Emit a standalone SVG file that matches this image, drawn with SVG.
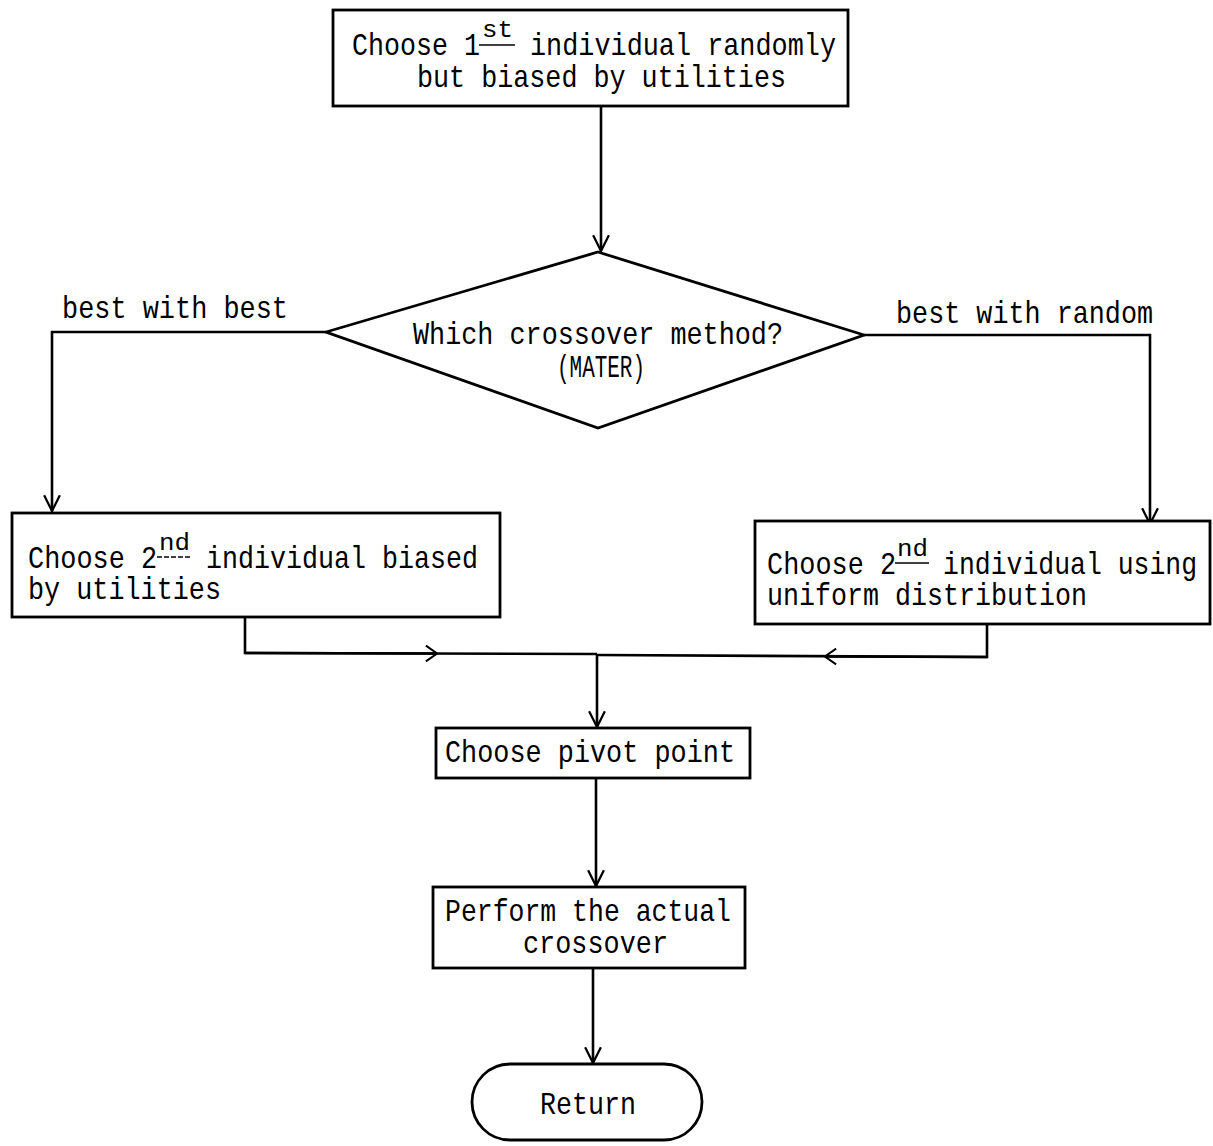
<svg xmlns="http://www.w3.org/2000/svg" width="1213" height="1146" viewBox="0 0 1213 1146">
  <style>
    .box { fill: #ffffff; stroke: #000000; stroke-width: 2.8; }
    .wire { fill: none; stroke: #000000; stroke-width: 2.6; }
    .ul { stroke: #000000; stroke-width: 1.6; }
    text { font-family: "Liberation Mono", "Courier New", monospace; font-size: 32px; fill: #000000; }
    .sup { font-size: 24px; }
  </style>
  <defs>
    <marker id="vhead" viewBox="0 0 16 16" refX="15" refY="8" markerWidth="18" markerHeight="18" markerUnits="userSpaceOnUse" orient="auto">
      <path d="M1,1 L15,8 L1,15" fill="none" stroke="#000000" stroke-width="2"/>
    </marker>
    <marker id="vmid" viewBox="0 0 16 16" refX="10" refY="8" markerWidth="18" markerHeight="18" markerUnits="userSpaceOnUse" orient="auto">
      <path d="M1,1 L11,8 L1,15" fill="none" stroke="#000000" stroke-width="1.8"/>
    </marker>
  </defs>

  <rect width="1213" height="1146" fill="#ffffff"/>

  <!-- connectors -->
  <g id="connectors">
    <line class="wire" x1="601" y1="106" x2="601" y2="251" marker-end="url(#vhead)"/>
    <polyline class="wire" points="326,332 52,332 52,511" marker-end="url(#vhead)"/>
    <polyline class="wire" points="864,335 1150,335 1150,524" marker-end="url(#vhead)"/>
    <polyline class="wire" points="245,617 245,653 597,654"/>
    <polyline class="wire" points="987,624 987,657 597,655"/>
    <line class="wire" x1="245" y1="653" x2="436" y2="653.5" marker-end="url(#vmid)"/>
    <line class="wire" x1="987" y1="657" x2="826" y2="656.5" marker-end="url(#vmid)"/>
    <line class="wire" x1="597" y1="655" x2="597" y2="727" marker-end="url(#vhead)"/>
    <line class="wire" x1="596" y1="778" x2="596" y2="886" marker-end="url(#vhead)"/>
    <line class="wire" x1="593" y1="968" x2="593" y2="1063" marker-end="url(#vhead)"/>
    <text x="62" y="318" textLength="226" lengthAdjust="spacingAndGlyphs">best with best</text>
    <text x="896" y="323" textLength="257" lengthAdjust="spacingAndGlyphs">best with random</text>
  </g>

  <!-- first parent selection -->
  <g id="choose-first">
    <rect class="box" x="333" y="10" width="515" height="96"/>
    <text y="55"><tspan x="352" textLength="128" lengthAdjust="spacingAndGlyphs">Choose 1</tspan><tspan class="sup" x="482" y="37" textLength="31" lengthAdjust="spacingAndGlyphs">st</tspan><tspan x="530" y="55" textLength="306" lengthAdjust="spacingAndGlyphs">individual randomly</tspan></text>
    <line class="ul" x1="479" y1="45" x2="515" y2="45"/>
    <text x="417" y="87" textLength="369" lengthAdjust="spacingAndGlyphs">but biased by utilities</text>
  </g>

  <!-- crossover method decision -->
  <g id="method">
    <polygon class="box" points="598,252 864,335 598,428 326,332"/>
    <text x="598" y="344" text-anchor="middle" textLength="370" lengthAdjust="spacingAndGlyphs">Which crossover method?</text>
    <text x="601" y="377" text-anchor="middle" textLength="88" lengthAdjust="spacingAndGlyphs">(MATER)</text>
  </g>

  <!-- second parent, biased -->
  <g id="choose-second-biased">
    <rect class="box" x="12" y="513" width="488" height="104"/>
    <text y="568"><tspan x="28" textLength="129" lengthAdjust="spacingAndGlyphs">Choose 2</tspan><tspan class="sup" x="159" y="550" textLength="31" lengthAdjust="spacingAndGlyphs">nd</tspan><tspan x="206" y="568" textLength="272" lengthAdjust="spacingAndGlyphs">individual biased</tspan></text>
    <line class="ul" x1="157" y1="557" x2="192" y2="557" stroke-dasharray="5,2"/>
    <text x="28" y="599" textLength="193" lengthAdjust="spacingAndGlyphs">by utilities</text>
  </g>

  <!-- second parent, uniform -->
  <g id="choose-second-uniform">
    <rect class="box" x="755" y="521" width="455" height="103"/>
    <text y="574"><tspan x="767" textLength="129" lengthAdjust="spacingAndGlyphs">Choose 2</tspan><tspan class="sup" x="897" y="556" textLength="31" lengthAdjust="spacingAndGlyphs">nd</tspan><tspan x="943" y="574" textLength="254" lengthAdjust="spacingAndGlyphs">individual using</tspan></text>
    <line class="ul" x1="895" y1="563" x2="929" y2="563"/>
    <text x="767" y="605" textLength="320" lengthAdjust="spacingAndGlyphs">uniform distribution</text>
  </g>

  <!-- pivot -->
  <g id="pivot">
    <rect class="box" x="436" y="728" width="314" height="50"/>
    <text x="445" y="762" textLength="290" lengthAdjust="spacingAndGlyphs">Choose pivot point</text>
  </g>

  <!-- crossover -->
  <g id="perform">
    <rect class="box" x="433" y="887" width="312" height="81"/>
    <text x="445" y="921" textLength="286" lengthAdjust="spacingAndGlyphs">Perform the actual</text>
    <text x="523" y="953" textLength="145" lengthAdjust="spacingAndGlyphs">crossover</text>
  </g>

  <!-- terminator -->
  <g id="return">
    <rect class="box" x="472" y="1064" width="230" height="76" rx="38" ry="38"/>
    <text x="588" y="1114" text-anchor="middle" textLength="96" lengthAdjust="spacingAndGlyphs">Return</text>
  </g>
</svg>
